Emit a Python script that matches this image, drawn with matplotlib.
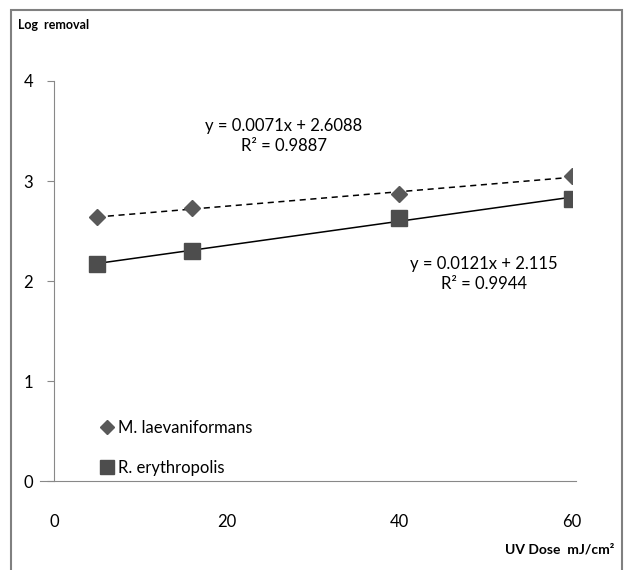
import numpy as np
import matplotlib
matplotlib.use('Agg')
import matplotlib.pyplot as plt
from matplotlib.patches import Rectangle

plt.rcParams['font.family'] = ['Lato', 'DejaVu Sans']

# UV dose (mJ/cm2)
dose = [5, 16, 40, 60]
# log removal
m_laev = [2.64, 2.73, 2.87, 3.05]
r_eryth = [2.17, 2.30, 2.63, 2.82]

m_label = 'M. laevaniformans'
r_label = 'R. erythropolis'
m_eq = 'y = 0.0071x + 2.6088\nR² = 0.9887'
r_eq = 'y = 0.0121x + 2.115\nR² = 0.9944'

fig = plt.figure(figsize=(6.26, 5.7), dpi=100)
ax = fig.add_axes([0.0863, 0.1561, 0.8275, 0.7018])

grey = '#595959'
ax.plot(dose, m_laev, 'D', color=grey, ms=8, label=m_label, zorder=3)
ax.plot(dose, r_eryth, 's', color='#4d4d4d', ms=11, label=r_label, zorder=3)

# linear trendlines
xx = np.array([min(dose), max(dose)])
p = np.polyfit(dose, m_laev, 1)
ax.plot(xx, np.polyval(p, xx), color='black', lw=1.1, ls=(0, (4, 3)))
p = np.polyfit(dose, r_eryth, 1)
ax.plot(xx, np.polyval(p, xx), color='black', lw=1.1)

ax.text(26.6, 3.45, m_eq, ha='center', va='center', fontsize=12, linespacing=1.3)
ax.text(49.8, 2.07, r_eq, ha='center', va='center', fontsize=12, linespacing=1.3)

ax.set_xlim(0, 60)
ax.set_ylim(0, 4)
ax.set_xticks([0, 20, 40, 60])
ax.set_yticks([0, 1, 2, 3, 4])
ax.tick_params(axis='x', length=0, pad=24, labelsize=12)
ax.tick_params(axis='y', length=5, color='#888888', pad=10, labelsize=12)
for s in ['top', 'right']:
    ax.spines[s].set_visible(False)
for s in ['left', 'bottom']:
    ax.spines[s].set_color('#888888')
ax.spines['bottom'].set_bounds(-1.6, 60.5)
ax.spines['left'].set_position(('data', 0))

ax.legend(loc='lower left', bbox_to_anchor=(0.06, -0.025), frameon=False, fontsize=12,
          handlelength=0.8, handletextpad=0.3, labelspacing=1.45, markerscale=0.9)

fig.text(18 / 626, 1 - 25 / 570, 'Log  removal', fontsize=9, fontweight='bold', va='center')
fig.text(614 / 626, 1 - 549 / 570, 'UV Dose  mJ/cm²', fontsize=10, fontweight='bold',
         ha='right', va='center')

fig.patches.append(Rectangle((11 / 626, -0.02), 611 / 626, 1 - 10 / 570 + 0.02,
                             transform=fig.transFigure, fill=False,
                             edgecolor='#808080', lw=1.5))

fig.savefig('out.png', dpi=100)
